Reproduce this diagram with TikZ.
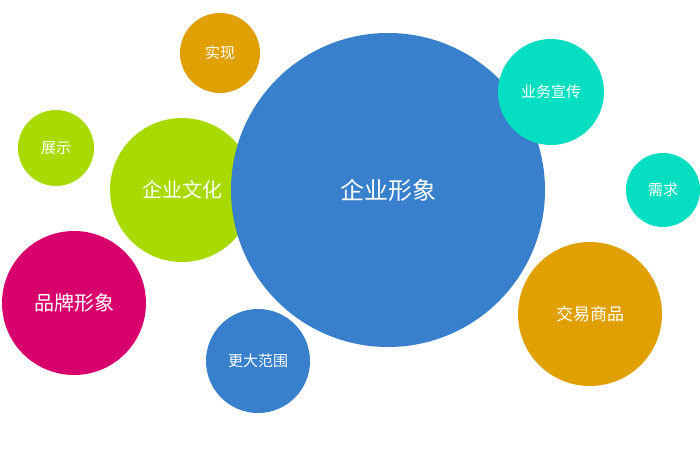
\documentclass[tikz,border=0pt]{standalone}
\usepackage{fontspec}
\newfontfamily\cjk{Noto Sans CJK SC}
\definecolor{myorange}{HTML}{DFA000}
\definecolor{mylime}{HTML}{A8DA00}
\definecolor{mymagenta}{HTML}{D8006C}
\definecolor{myblue}{HTML}{3880CB}
\definecolor{myteal}{HTML}{05DEC0}
\tikzset{bubble/.style={circle, fill=#1, text=white, inner sep=0pt, font=\cjk}}
\begin{document}
\begin{tikzpicture}[x=1pt,y=-1pt]
  \useasboundingbox[fill=white] (0,0) rectangle (700,450);
  \node[bubble=myorange, minimum size=80pt, font=\cjk\fontsize{15}{18}\selectfont]   (SX) at (220,53)  {实现};
  \node[bubble=mylime, minimum size=76pt, font=\cjk\fontsize{15}{18}\selectfont]     (ZS) at (56,148)  {展示};
  \node[bubble=mylime, minimum size=144pt, font=\cjk\fontsize{20}{24}\selectfont]    (WH) at (182,190) {企业文化};
  \node[bubble=mymagenta, minimum size=144pt, font=\cjk\fontsize{20}{24}\selectfont] (PP) at (74,303)  {品牌形象};
  \node[bubble=myblue, minimum size=104pt, font=\cjk\fontsize{15}{18}\selectfont]    (FW) at (258,361) {更大范围};
  \node[bubble=myblue, minimum size=314pt, font=\cjk\fontsize{24}{28}\selectfont]    (XX) at (388,190) {企业形象};
  \node[bubble=myteal, minimum size=106pt, font=\cjk\fontsize{15}{18}\selectfont]    (YW) at (551,92)  {业务宣传};
  \node[bubble=myteal, minimum size=74pt, font=\cjk\fontsize{15}{18}\selectfont]     (XQ) at (663,190) {需求};
  \node[bubble=myorange, minimum size=144pt, font=\cjk\fontsize{17}{20}\selectfont]  (JY) at (590,314) {交易商品};
\end{tikzpicture}
\end{document}
